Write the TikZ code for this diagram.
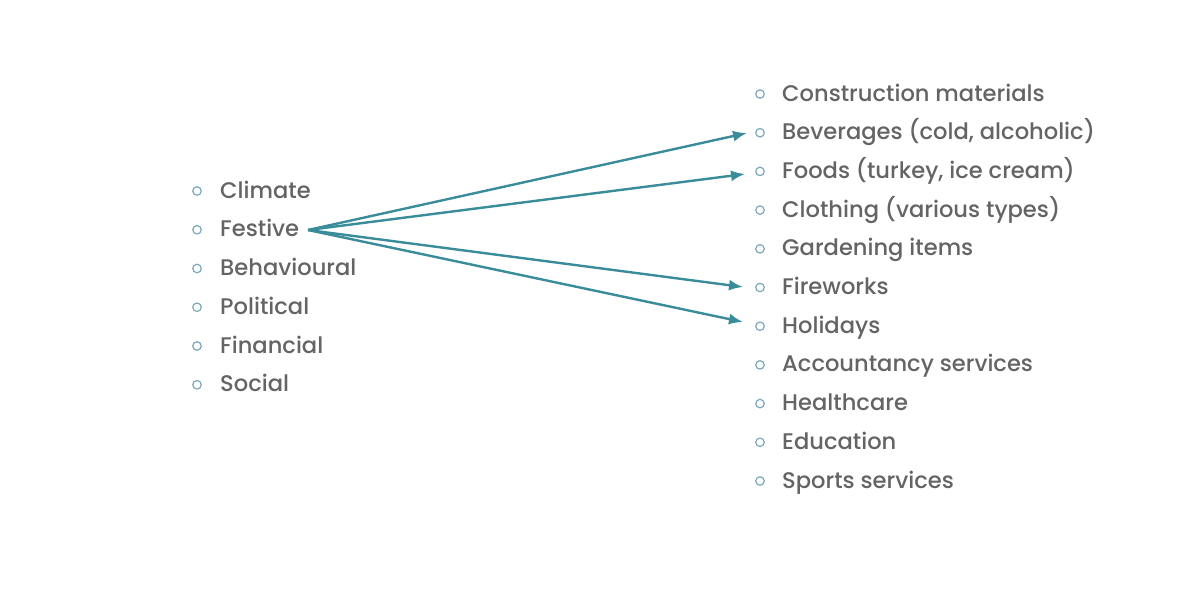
\documentclass[tikz,border=0pt]{standalone}
\usepackage{fontspec}
\setmainfont{Poppins Medium}
\usetikzlibrary{arrows.meta}
\definecolor{txtgray}{HTML}{646464}
\definecolor{teal}{HTML}{3B8C9B}
\definecolor{bulletc}{HTML}{7AA8BC}
\tikzset{
  item/.style={anchor=base west, inner sep=0pt, text=txtgray, font=\fontsize{22.6}{26}\selectfont},
  bul/.style={circle, draw=bulletc, line width=1.2pt, minimum size=8.5pt, inner sep=0pt},
  conn/.style={draw=teal, line width=2.4pt, -{Latex[length=14pt,width=11pt]}}
}
\begin{document}
\begin{tikzpicture}[x=1pt,y=-1pt]
\useasboundingbox (0,0) rectangle (1200,598);
% left list
\foreach \t [count=\i] in {Climate,Festive,Behavioural,Political,Financial,Social}{
  \pgfmathsetmacro{\yy}{190+38.75*(\i-1)}
  \node[bul] (lb\i) at (197,\yy+1) {};
  \node[item] (l\i) at (220,\yy+8) {\t};
}
% right list
\foreach \t [count=\i] in {Construction materials,{Beverages (cold, alcoholic)},{Foods (turkey, ice cream)},Clothing (various types),Gardening items,Fireworks,Holidays,Accountancy services,Healthcare,Education,Sports services}{
  \pgfmathsetmacro{\yy}{93+38.7*(\i-1)}
  \node[bul] (rb\i) at (760,\yy+1) {};
  \node[item] (r\i) at (782,\yy+8) {\t};
}
\coordinate (s) at (308,230);
\coordinate (t2) at (747,133);
\coordinate (t3) at (745,174);
\coordinate (t6) at (743,287);
\coordinate (t7) at (743,322);
\draw[conn] (s) -- (t2);
\draw[conn] (s) -- (t3);
\draw[conn] (s) -- (t6);
\draw[conn] (s) -- (t7);
\end{tikzpicture}
\end{document}
